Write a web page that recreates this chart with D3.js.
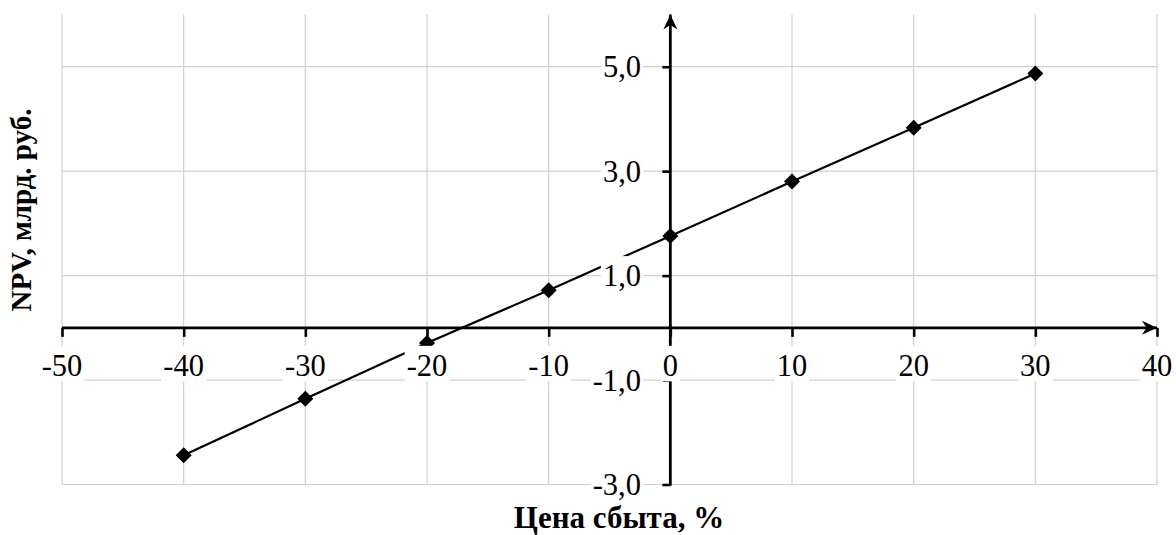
<!DOCTYPE html>
<html>
<head>
<meta charset="utf-8">
<script src="https://cdn.jsdelivr.net/npm/d3@7"></script>
<style>
  html, body { margin: 0; padding: 0; background: #fff; }
  svg { display: block; font-family: "Liberation Serif", "Times New Roman", serif; }
</style>
</head>
<body>
<svg id="chart" width="1176" height="535"></svg>
<script>
// Price change of sales (%) and the resulting NPV (bn rub.)
const priceChange = [-40, -30, -20, -10, 0, 10, 20, 30];
const npvValues   = [-2.44, -1.36, -0.29, 0.72, 1.76, 2.80, 3.83, 4.87];

const xTicks = [-50, -40, -30, -20, -10, 0, 10, 20, 30, 40];
const yTicks = [-3, -1, 1, 3, 5];
const yTickLabels = ["-3,0", "-1,0", "1,0", "3,0", "5,0"];

const xTitle = "Цена сбыта, %";
const yTitle = "NPV, млрд. руб.";

const svg = d3.select("#chart");
const plot = { left: 62, right: 1157, top: 14.5, bottom: 484.5 };

const x = d3.scaleLinear().domain([-50, 40]).range([plot.left, plot.right]);
const y = d3.scaleLinear().domain([-3, 6]).range([plot.bottom, plot.top]);

// arrow heads for the axes
const defs = svg.append("defs");
defs.append("marker")
  .attr("id", "arrow")
  .attr("viewBox", "-16 -8 17 16")
  .attr("refX", 0).attr("refY", 0)
  .attr("markerUnits", "userSpaceOnUse")
  .attr("markerWidth", 17).attr("markerHeight", 16)
  .attr("orient", "auto")
  .append("path")
  .attr("d", "M0,0 L-15,-7 L-10.5,0 L-15,7 Z")
  .attr("fill", "#000");

// grid
const grid = svg.append("g").attr("stroke", "#d0d0d0").attr("stroke-width", 1.2);
grid.selectAll("line.v").data(xTicks).join("line")
  .attr("x1", d => x(d)).attr("x2", d => x(d))
  .attr("y1", plot.top).attr("y2", plot.bottom);
grid.selectAll("line.h").data(yTicks).join("line")
  .attr("x1", plot.left).attr("x2", plot.right)
  .attr("y1", d => y(d)).attr("y2", d => y(d));

// x axis through zero
const xAxis = d3.axisBottom(x).tickValues(xTicks).tickSize(9).tickFormat("");
const gx = svg.append("g").attr("transform", `translate(0,${y(0)})`).call(xAxis);
gx.select(".domain").remove();
gx.selectAll(".tick line").attr("stroke", "#000").attr("stroke-width", 2.6);
svg.append("line")
  .attr("x1", plot.left).attr("x2", plot.right)
  .attr("y1", y(0)).attr("y2", y(0))
  .attr("stroke", "#000").attr("stroke-width", 2.8)
  .attr("marker-end", "url(#arrow)");

// y axis through zero
const yAxis = d3.axisLeft(y).tickValues(yTicks).tickSize(8).tickFormat("");
const gy = svg.append("g").attr("transform", `translate(${x(0)},0)`).call(yAxis);
gy.select(".domain").remove();
gy.selectAll(".tick line").attr("stroke", "#000").attr("stroke-width", 2.6);
svg.append("line")
  .attr("x1", x(0)).attr("x2", x(0))
  .attr("y1", plot.bottom + 1.3).attr("y2", plot.top)
  .attr("stroke", "#000").attr("stroke-width", 2.8)
  .attr("marker-end", "url(#arrow)");

// series
const pts = priceChange.map((p, i) => [p, npvValues[i]]);
svg.append("path")
  .datum(pts)
  .attr("fill", "none").attr("stroke", "#000").attr("stroke-width", 2.2)
  .attr("d", d3.line().x(d => x(d[0])).y(d => y(d[1])));
svg.append("g").selectAll("path").data(pts).join("path")
  .attr("transform", d => `translate(${x(d[0])},${y(d[1])})`)
  .attr("d", "M0,-8 L8,0 L0,8 L-8,0 Z")
  .attr("fill", "#000");

// tick labels on white boxes
function boxedLabel(g, text, px, py, anchor) {
  const grp = g.append("g");
  const rect = grp.append("rect").attr("fill", "#fff");
  const t = grp.append("text")
    .attr("x", px).attr("y", py)
    .attr("text-anchor", anchor)
    .attr("font-size", 30.5)
    .attr("fill", "#000")
    .text(text);
  const bb = t.node().getBBox();
  rect.attr("x", bb.x - 2).attr("width", bb.width + 4)
      .attr("y", py - 30).attr("height", 35.5);
}
const labels = svg.append("g");
xTicks.forEach(v => boxedLabel(labels, String(v), x(v), y(0) + 48, "middle"));
yTicks.forEach((v, i) => boxedLabel(labels, yTickLabels[i], 641, y(v) + 10.5, "end"));

// axis titles
svg.append("text")
  .attr("x", 619).attr("y", 528)
  .attr("text-anchor", "middle")
  .attr("font-size", 31).attr("font-weight", "bold")
  .text(xTitle);
svg.append("text")
  .attr("transform", "translate(31,210) rotate(-90)")
  .attr("text-anchor", "middle")
  .attr("font-size", 29).attr("font-weight", "bold")
  .text(yTitle);
</script>
</body>
</html>
